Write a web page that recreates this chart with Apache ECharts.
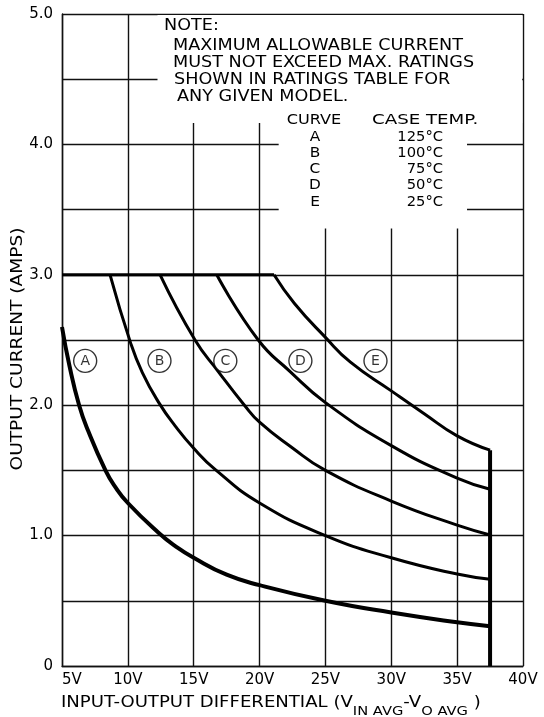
<!DOCTYPE html>
<html>
<head>
<meta charset="utf-8">
<script src="https://cdn.jsdelivr.net/npm/echarts@6/dist/echarts.min.js"></script>
<style>
  html, body { margin: 0; padding: 0; background: #fff; }
  #main { width: 544px; height: 717px; }
</style>
</head>
<body>
<div id="main"></div>
<script>
var curveNames = ['A', 'B', 'C', 'D', 'E'];
var caseTemps = ['125°C', '100°C', '75°C', '50°C', '25°C'];

// [volts, amps]
var curveA = [[5.0, 2.6], [5.55, 2.31], [6.3, 2.0], [7.0, 1.8], [8.3, 1.5], [9.0, 1.38], [10.0, 1.25], [12.35, 1.02], [13.6, 0.92], [15.0, 0.83], [17.5, 0.70], [20.0, 0.62], [25.0, 0.5], [30.0, 0.41], [35.0, 0.335], [37.5, 0.305]];
var curveB = [[8.65, 3.0], [10.2, 2.48], [11.1, 2.25], [12.35, 2.02], [13.6, 1.84], [15.0, 1.67], [16.6, 1.51], [20.0, 1.25], [25.0, 1.0], [30.0, 0.83], [35.0, 0.705], [37.5, 0.665]];
var curveC = [[12.45, 3.0], [15.1, 2.5], [16.85, 2.26], [18.85, 2.0], [20.0, 1.87], [22.4, 1.68], [25.0, 1.5], [30.0, 1.265], [35.0, 1.08], [37.5, 1.005]];
var curveD = [[16.75, 3.0], [19.9, 2.5], [22.3, 2.26], [25.0, 2.02], [30.0, 1.69], [35.0, 1.44], [37.5, 1.355]];
var curveE = [[21.1, 3.0], [22.65, 2.78], [25.0, 2.52], [26.9, 2.33], [30.0, 2.11], [32.5, 1.935], [35.0, 1.765], [37.5, 1.655]];
var currentLimit = [[5.0, 3.0], [21.1, 3.0]];
var voltageLimit = [[37.5, 0], [37.5, 1.655]];
var curveTags = [[6.76, 2.34], [12.4, 2.34], [17.4, 2.34], [23.1, 2.34], [28.8, 2.34]];

var xTickLabels = ['5V', '10V', '15V', '20V', '25V', '30V', '35V', '40V'];
var yTickLabels = ['0', '', '1.0', '', '2.0', '', '3.0', '', '4.0', '', '5.0'];

var noteLines = ['NOTE:', 'MAXIMUM ALLOWABLE CURRENT', 'MUST NOT EXCEED MAX. RATINGS', 'SHOWN IN RATINGS TABLE FOR', 'ANY GIVEN MODEL.'];

var FONT = 'DejaVu Sans';
var gridLine = { color: '#111', width: 1.4 };

function curveSeries(name, data, width) {
  return {
    name: name,
    type: 'line',
    data: data,
    smooth: 0.5,
    showSymbol: false,
    lineStyle: { color: '#000', width: width },
    z: 3
  };
}

function initChart(dom) {
  var chart = echarts.init(dom, null, { renderer: 'canvas' });

  var option = {
    animation: false,
    backgroundColor: '#fff',
    grid: { left: 62, right: 21, top: 14, bottom: 51 },
    xAxis: {
      type: 'value',
      min: 5,
      max: 40,
      interval: 5,
      axisLine: { show: true, lineStyle: gridLine },
      axisTick: { show: false },
      splitLine: { show: true, lineStyle: gridLine },
      axisLabel: {
        margin: 7,
        color: '#000',
        fontFamily: FONT,
        fontSize: 15,
        alignMinLabel: 'left',
        formatter: function (v) {
          return xTickLabels[Math.round((v - 5) / 5)];
        }
      }
    },
    yAxis: {
      type: 'value',
      min: 0,
      max: 5,
      interval: 0.5,
      axisLine: { show: true, lineStyle: gridLine },
      axisTick: { show: false },
      splitLine: { show: true, lineStyle: gridLine },
      axisLabel: {
        margin: 9,
        color: '#000',
        fontFamily: FONT,
        fontSize: 15,
        formatter: function (v) {
          return yTickLabels[Math.round(v / 0.5)];
        }
      }
    },
    series: [
      curveSeries('A', curveA, 4),
      curveSeries('B', curveB, 3),
      curveSeries('C', curveC, 3),
      curveSeries('D', curveD, 3),
      curveSeries('E', curveE, 3),
      curveSeries('current limit', currentLimit, 3),
      curveSeries('voltage limit', voltageLimit, 4),
      {
        type: 'scatter',
        symbol: 'circle',
        symbolSize: 23,
        z: 4,
        itemStyle: { color: '#fff', borderColor: '#000', borderWidth: 1.4 },
        label: {
          show: true,
          position: 'inside',
          color: '#000',
          fontFamily: FONT,
          fontSize: 14,
          formatter: function (p) { return p.name; }
        },
        data: curveTags.map(function (t, i) {
          return { name: curveNames[i], value: t };
        })
      }
    ]
  };

  chart.setOption(option);

  // white patches where the note text interrupts the grid
  function px(v, a) { return chart.convertToPixel({ gridIndex: 0 }, [v, a]); }
  function mask(v0, a0, v1, a1, inset) {
    var p0 = px(v0, a1), p1 = px(v1, a0);
    var x1 = p1[0] - (inset || 0);
    return {
      type: 'rect', z: 1, silent: true,
      shape: { x: p0[0], y: p0[1] + 1, width: x1 - p0[0], height: p1[1] - p0[1] - 1 },
      style: { fill: '#fff' }
    };
  }

  var graphics = [
    mask(12.25, 4.165, 40, 5, 0.8),
    mask(21.45, 3.355, 35.75, 4.17)
  ];

  var noteY = [26, 45.5, 62.5, 79.5, 97];
  var noteX = [164, 173, 173, 174, 177];
  noteLines.forEach(function (t, i) {
    graphics.push({
      type: 'text', z: 5, x: noteX[i], y: noteY[i], scaleX: 1.1,
      style: { text: t, fontFamily: FONT, fontSize: 16, fill: '#000', align: 'left', verticalAlign: 'middle' }
    });
  });

  graphics.push({
    type: 'text', z: 5, x: 314, y: 120, scaleX: 1.15,
    style: { text: 'CURVE', fontFamily: FONT, fontSize: 14, fill: '#000', align: 'center', verticalAlign: 'middle' }
  });
  graphics.push({
    type: 'text', z: 5, x: 372, y: 120, scaleX: 1.3,
    style: { text: 'CASE TEMP.', fontFamily: FONT, fontSize: 14, fill: '#000', align: 'left', verticalAlign: 'middle' }
  });
  curveNames.forEach(function (n, i) {
    var y = 137 + i * 16.25;
    graphics.push({
      type: 'text', z: 5, x: 315, y: y, scaleX: 1.1,
      style: { text: n, fontFamily: FONT, fontSize: 14, fill: '#000', align: 'center', verticalAlign: 'middle' }
    });
    graphics.push({
      type: 'text', z: 5, x: 443, y: y, scaleX: 1.05,
      style: { text: caseTemps[i], fontFamily: FONT, fontSize: 14, fill: '#000', align: 'right', verticalAlign: 'middle' }
    });
  });

  // axis titles
  graphics.push({
    type: 'text', z: 5, x: 18, y: 349, rotation: Math.PI / 2, scaleX: 1.16,
    style: { text: 'OUTPUT CURRENT (AMPS)', fontFamily: FONT, fontSize: 16, fill: '#000', align: 'center', verticalAlign: 'middle' }
  });
  graphics.push({
    type: 'text', z: 5, x: 61, y: 694.5, scaleX: 1.13,
    style: {
      text: '{n|INPUT-OUTPUT DIFFERENTIAL (V}{s|IN AVG}{n|-V}{s|O AVG}{n| )}',
      align: 'left',
      verticalAlign: 'top',
      rich: {
        n: { fontFamily: FONT, fontSize: 16, lineHeight: 16, fill: '#000', verticalAlign: 'top' },
        s: { fontFamily: FONT, fontSize: 13, lineHeight: 24, fill: '#000', verticalAlign: 'bottom' }
      }
    }
  });

  chart.setOption({ graphic: graphics });
  return chart;
}

initChart(document.getElementById('main'));
</script>
</body>
</html>
